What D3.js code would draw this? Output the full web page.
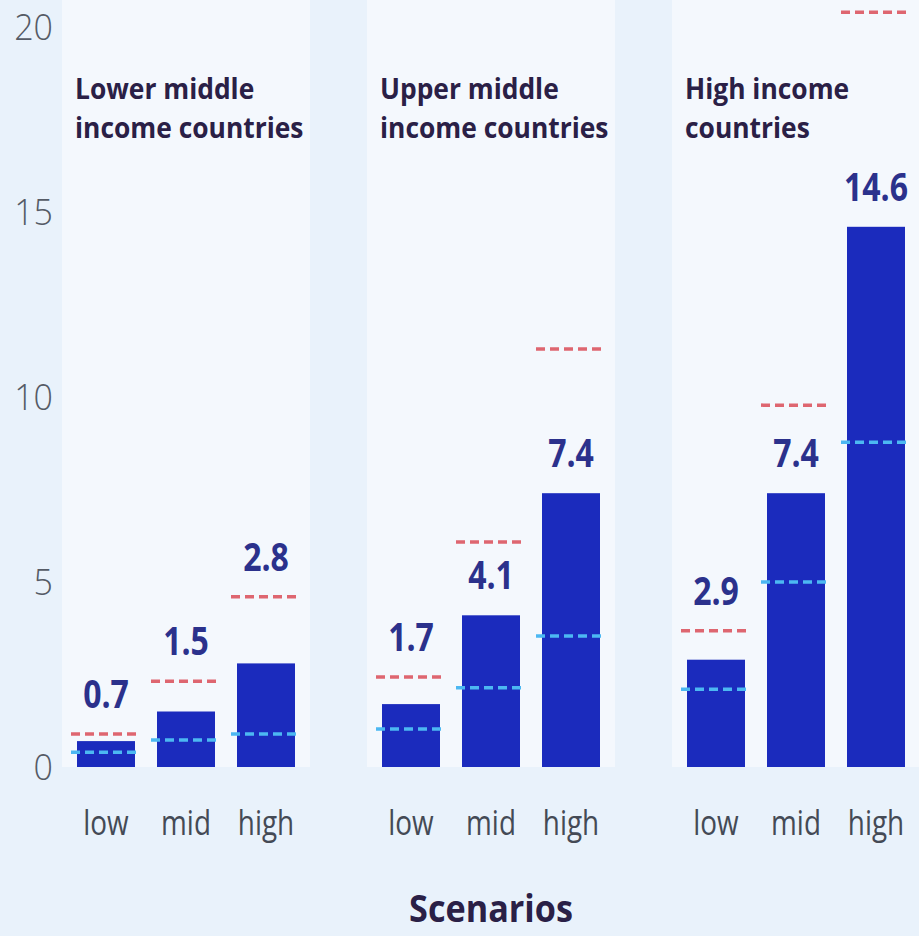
<!DOCTYPE html>
<html>
<head>
<meta charset="utf-8">
<script src="https://cdn.jsdelivr.net/npm/d3@7"></script>
<style>
  html, body { margin: 0; padding: 0; background: #e9f2fb; }
  svg { display: block; }
  text { font-family: "Open Sans", "Noto Sans", sans-serif; }
</style>
</head>
<body>
<svg id="chart" width="919" height="936"></svg>
<script>
// Income groups (panel titles, split over two lines)
const groups = ["Lower middle income countries", "Upper middle income countries", "High income countries"];
const groupTitles = [["Lower middle", "income countries"], ["Upper middle", "income countries"], ["High income", "countries"]];
// Scenarios inside each panel
const scenarios = ["low", "mid", "high"];
// Central estimate per group and scenario
const central = [[0.7, 1.5, 2.8], [1.7, 4.1, 7.4], [2.9, 7.4, 14.6]];
// Lower and upper bounds of the range
const lowerBound = [[0.4, 0.73, 0.89], [1.03, 2.14, 3.54], [2.1, 5.0, 8.78]];
const upperBound = [[0.89, 2.32, 4.6], [2.43, 6.08, 11.3], [3.68, 9.78, 20.4]];
// Y axis ticks
const yTicks = [0, 5, 10, 15, 20];
const xTitle = "Scenarios";

const W = 919, H = 936;
const svg = d3.select("#chart");

const y = d3.scaleLinear().domain([0, 20]).range([767, 27]);
const fx = d3.scaleBand().domain(groups).range([62, 920]).paddingInner(57 / 305).paddingOuter(0);
const x = d3.scaleBand().domain(scenarios).range([0, fx.bandwidth()]).paddingInner(0.275).paddingOuter(0.1875);

// page background
svg.append("rect").attr("width", W).attr("height", H).attr("fill", "#e9f2fb");

// condensed text helper: draws a text horizontally squeezed around its anchor
function ctext(sel, tx, ty, str, sx) {
  return sel.append("text")
    .attr("transform", `translate(${tx},${ty}) scale(${sx},1)`)
    .text(str);
}

// y axis labels
const yAxis = svg.append("g");
yTicks.forEach(t => {
  ctext(yAxis, 53, y(t) + 13, t, 0.92)
    .attr("text-anchor", "end")
    .attr("font-size", 37)
    .attr("font-weight", 300)
    .attr("fill", "#555b66");
});

const panels = svg.selectAll("g.panel").data(groups).join("g")
  .attr("class", "panel")
  .attr("transform", d => `translate(${fx(d)},0)`);

// panel background
panels.append("rect")
  .attr("x", 0).attr("y", 0)
  .attr("width", fx.bandwidth())
  .attr("height", y(0))
  .attr("fill", "#f4f8fd");

panels.each(function (g, gi) {
  const p = d3.select(this);

  // title
  groupTitles[gi].forEach((line, li) => {
    ctext(p, 13, 99 + li * 39, line, 0.91)
      .attr("font-size", 29)
      .attr("font-weight", 700)
      .attr("fill", "#2a2046");
  });

  // bars
  p.selectAll("rect.bar").data(scenarios).join("rect")
    .attr("class", "bar")
    .attr("x", s => x(s))
    .attr("width", x.bandwidth())
    .attr("y", (s, i) => y(central[gi][i]))
    .attr("height", (s, i) => y(0) - y(central[gi][i]))
    .attr("fill", "#1b2bbd");

  // upper bound marks
  p.selectAll("line.up").data(scenarios).join("line")
    .attr("class", "up")
    .attr("x1", s => x(s) - 6).attr("x2", s => x(s) + x.bandwidth() + 4)
    .attr("y1", (s, i) => y(upperBound[gi][i]))
    .attr("y2", (s, i) => y(upperBound[gi][i]))
    .attr("stroke", "#dc5560")
    .attr("stroke-opacity", 0.9)
    .attr("stroke-width", 3.5)
    .attr("stroke-dasharray", "9,5");

  // lower bound marks
  p.selectAll("line.lo").data(scenarios).join("line")
    .attr("class", "lo")
    .attr("x1", s => x(s) - 6).attr("x2", s => x(s) + x.bandwidth() + 4)
    .attr("y1", (s, i) => y(lowerBound[gi][i]))
    .attr("y2", (s, i) => y(lowerBound[gi][i]))
    .attr("stroke", "#4cb8f2")
    .attr("stroke-width", 3.5)
    .attr("stroke-dasharray", "9,5");

  // value labels: above the upper bound when it sits close to the bar, otherwise above the bar
  scenarios.forEach((s, i) => {
    const v = central[gi][i], u = upperBound[gi][i];
    const anchor = (u - v < 1.9) ? u : v;
    ctext(p, x(s) + x.bandwidth() / 2, y(anchor) - 26, v.toFixed(1), 0.8)
      .attr("text-anchor", "middle")
      .attr("font-size", 40)
      .attr("font-weight", 700)
      .attr("fill", "#2b318c");
  });

  // scenario tick labels
  scenarios.forEach(s => {
    ctext(p, x(s) + x.bandwidth() / 2, 835, s, 0.82)
      .attr("text-anchor", "middle")
      .attr("font-size", 34)
      .attr("font-weight", 400)
      .attr("fill", "#444a55");
  });
});

// x axis title, centred under the middle panel
ctext(svg, fx(groups[1]) + fx.bandwidth() / 2, 922, xTitle, 0.9)
  .attr("text-anchor", "middle")
  .attr("font-size", 38)
  .attr("font-weight", 700)
  .attr("fill", "#2a2046");
</script>
</body>
</html>
